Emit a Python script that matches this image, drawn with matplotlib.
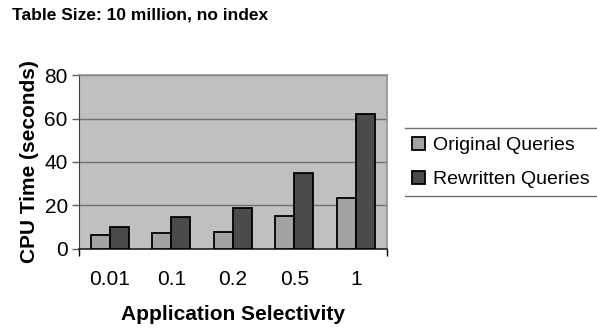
import numpy as np
import matplotlib.pyplot as plt
from matplotlib.lines import Line2D

# data
categories = ["0.01", "0.1", "0.2", "0.5", "1"]
original = [6.4, 7.2, 8.0, 15.3, 23.3]
rewritten = [10.3, 14.6, 19.0, 35.1, 62.3]

plt.rcParams['font.family'] = ['Liberation Sans', 'DejaVu Sans']

fig = plt.figure(figsize=(5.97, 3.28), dpi=100)
ax = fig.add_axes([0.1323, 0.2409, 0.5155, 0.5304])
ax.set_facecolor('#c0c0c0')

x = np.arange(len(categories))
w = 0.31
ax.bar(x - w / 2, original, w, color='#a3a3a3', edgecolor='black', linewidth=1.3,
       label='Original Queries', zorder=3)
ax.bar(x + w / 2, rewritten, w, color='#4b4b4b', edgecolor='black', linewidth=1.3,
       label='Rewritten Queries', zorder=3)

ax.set_xlim(-0.5, len(categories) - 0.5)
ax.set_ylim(0, 80)
ax.set_yticks([0, 20, 40, 60, 80])
ax.yaxis.grid(True, color='#707070', linewidth=1, zorder=1)

# category labels centred, tick marks only at the outer edges
ax.set_xticks([-0.5, len(categories) - 0.5])
ax.set_xticklabels(['', ''])
ax.set_xticks(x, minor=True)
ax.set_xticklabels(categories, minor=True)
ax.tick_params(axis='x', which='major', length=5, width=1, color='black')
ax.tick_params(axis='x', which='minor', length=0, pad=15, labelsize=15)
ax.tick_params(axis='y', length=5, width=1, color='#606060', labelsize=15, pad=3)

for side in ['top', 'right']:
    ax.spines[side].set_color('#909090')
    ax.spines[side].set_linewidth(1.2)
ax.spines['left'].set_color('#404040')
ax.spines['bottom'].set_color('#202020')
ax.spines['bottom'].set_linewidth(1.2)

ax.set_ylabel("CPU Time (seconds)", fontsize=15, fontweight='bold', labelpad=4)
ax.set_xlabel("Application Selectivity", fontsize=15, fontweight='bold', labelpad=12)
fig.text(0.02, 0.955, "Table Size: 10 million, no index", fontsize=12.5,
         fontweight='bold', ha='left', va='center')

leg = fig.legend(loc='center left', bbox_to_anchor=(412 / 597, 1 - 162.5 / 328),
                 fontsize=14, frameon=False, handlelength=0.65, handleheight=0.65,
                 handletextpad=0.45, borderpad=0, borderaxespad=0, labelspacing=0.85)

# legend box shows only its top and bottom rules (right side runs off the figure)
x0 = 405 / 597
for yy in [1 - 128 / 328, 1 - 196 / 328]:
    fig.add_artist(Line2D([x0, 1.0], [yy, yy], transform=fig.transFigure,
                          color='#707070', linewidth=1))

fig.savefig("out.png", dpi=100)
